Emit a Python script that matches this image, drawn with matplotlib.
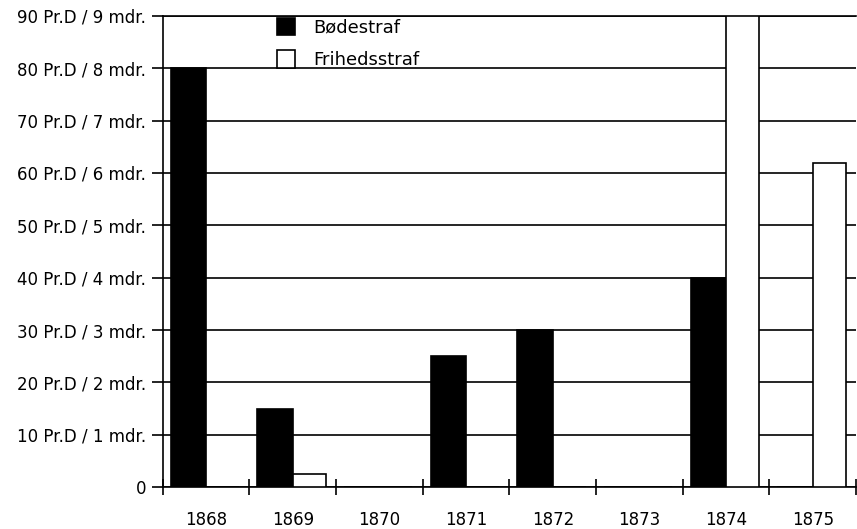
import numpy as np
import matplotlib.pyplot as plt

years = ['1868', '1869', '1870', '1871', '1872', '1873', '1874', '1875']
bodestraf = [80, 15, 0, 25, 30, 0, 40, 0]
frihedsstraf = [0, 2.5, 0, 0, 0, 0, 90, 62]
ylabels = ['0'] + [f'{v} Pr.D / {v // 10} mdr.' for v in range(10, 100, 10)]

plt.rcParams['font.family'] = ['DejaVu Sans']

fig = plt.figure(figsize=(8.57, 5.29), dpi=100)
ax = fig.add_axes([0.19, 0.079, 0.809, 0.891])

x = np.arange(len(years))
ax.bar(x + 0.09, bodestraf, width=0.41, align='edge', color='black',
       edgecolor='black', linewidth=1.2, label='Bødestraf', zorder=3)
ax.bar(x + 0.50, frihedsstraf, width=0.38, align='edge', color='white',
       edgecolor='black', linewidth=1.2, label='Frihedsstraf', zorder=3)

ax.set_xlim(0, len(years))
ax.set_ylim(0, 90)
ax.set_yticks(range(0, 100, 10))
ax.set_yticklabels(ylabels, fontsize=12)
ax.yaxis.grid(True, color='black', linewidth=1.2, zorder=0)
ax.set_axisbelow(True)

ax.set_xticks(range(len(years) + 1))
ax.set_xticklabels([])
ax.set_xticks(x + 0.5, minor=True)
ax.set_xticklabels(years, minor=True, fontsize=12)
ax.tick_params(axis='x', which='major', direction='inout', length=12, width=1.2)
ax.tick_params(axis='x', which='minor', length=0, pad=17)
ax.tick_params(axis='y', direction='out', length=8, width=1.2, pad=4)

for s in ['left', 'bottom', 'top']:
    ax.spines[s].set_linewidth(1.2)
ax.spines['right'].set_visible(False)

fig.legend(loc='upper left', bbox_to_anchor=(277 / 857, 1 - 18 / 529),
           frameon=False, borderpad=0, borderaxespad=0,
           handlelength=1.0, handleheight=1.1, handletextpad=1.0,
           labelspacing=0.75, fontsize=13)

fig.savefig('out.png', dpi=100)
